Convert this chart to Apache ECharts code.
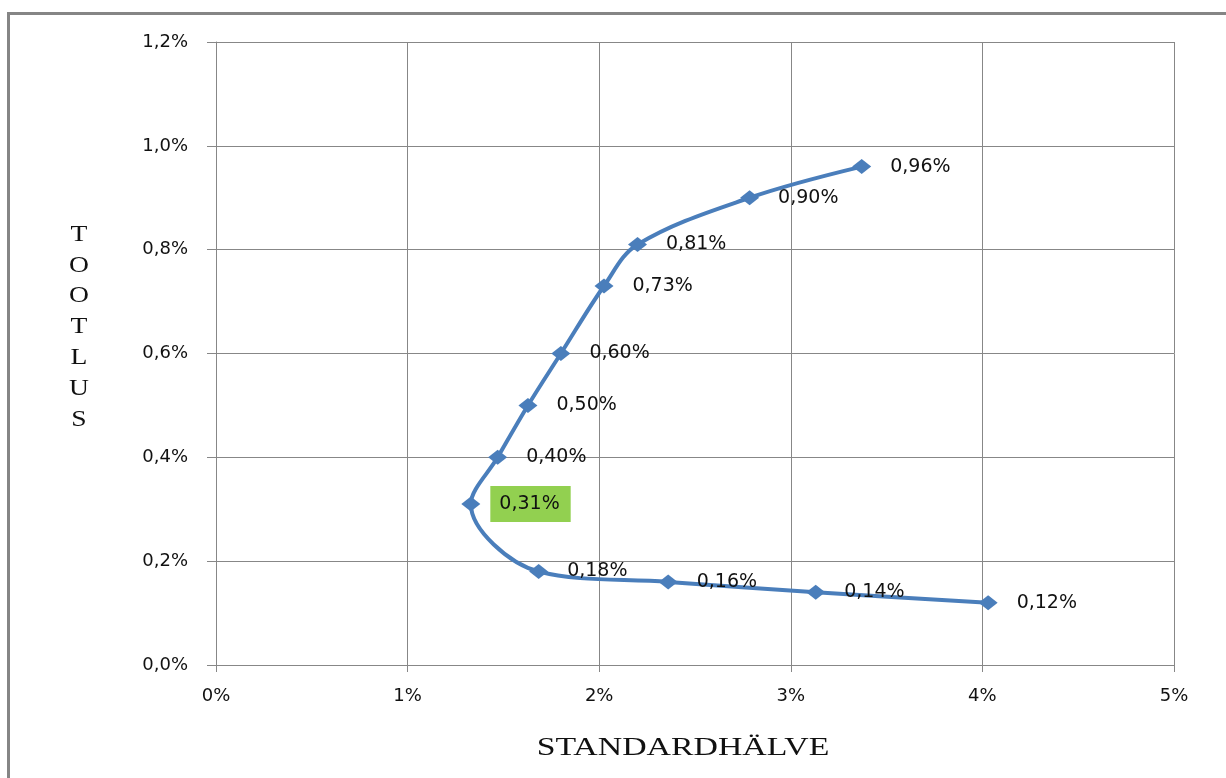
<!DOCTYPE html>
<html>
<head>
<meta charset="utf-8">
<script src="https://cdn.jsdelivr.net/npm/echarts@6/dist/echarts.min.js"></script>
<style>
  html, body { margin: 0; padding: 0; background: #fff; }
  #chart { width: 1226px; height: 778px; }
</style>
</head>
<body>
<div id="chart"></div>
<script>
// Efficient frontier: standard deviation (x, %) vs. expected return (y, %)
const stdevPct  = [3.37, 2.785, 2.20, 2.025, 1.80, 1.628, 1.47, 1.33, 1.684, 2.36, 3.13, 4.03];
const returnPct = [0.96, 0.90, 0.81, 0.73, 0.60, 0.50, 0.40, 0.31, 0.18, 0.16, 0.14, 0.12];
const highlightIndex = 7; // minimum-variance portfolio

const xTitle = 'STANDARDHÄLVE';
const yTitle = 'TOOTLUS';

const comma = (s) => s.replace('.', ',');

const points = stdevPct.map((x, i) => {
  const p = { value: [x, returnPct[i]] };
  if (i === highlightIndex) {
    p.label = { backgroundColor: '#92D050', padding: [9, 11, 8, 9], distance: 10 };
  }
  return p;
});

const chart = echarts.init(document.getElementById('chart'));
chart.setOption({
  animation: false,
  backgroundColor: '#ffffff',
  grid: { left: 216, right: 52, top: 42, bottom: 113, containLabel: false },
  xAxis: {
    type: 'value', min: 0, max: 5, interval: 1,
    axisLine: { show: true, lineStyle: { color: '#878787', width: 1 } },
    axisTick: { show: true, length: 7, lineStyle: { color: '#878787' } },
    splitLine: { show: true, lineStyle: { color: '#878787', width: 1 } },
    axisLabel: {
      margin: 22, color: '#111', fontFamily: 'DejaVu Sans', fontSize: 18,
      formatter: (v) => v.toFixed(0) + '%'
    }
  },
  yAxis: {
    type: 'value', min: 0, max: 1.2, interval: 0.2,
    axisLine: { show: true, lineStyle: { color: '#878787', width: 1 } },
    axisTick: { show: true, length: 9, lineStyle: { color: '#878787' } },
    splitLine: { show: true, lineStyle: { color: '#878787', width: 1 } },
    axisLabel: {
      margin: 28, color: '#111', fontFamily: 'DejaVu Sans', fontSize: 18,
      formatter: (v) => comma(v.toFixed(1)) + '%'
    }
  },
  series: [{
    type: 'line',
    data: points,
    smooth: 0.35,
    symbol: 'diamond',
    symbolSize: [19, 15],
    showAllSymbol: true,
    lineStyle: { color: '#4A7EBB', width: 4 },
    itemStyle: { color: '#4A7EBB' },
    label: {
      show: true, position: 'right', distance: 19,
      color: '#111', fontFamily: 'DejaVu Sans', fontSize: 19,
      formatter: (p) => comma(p.value[1].toFixed(2)) + '%'
    },
    z: 3
  }],
  graphic: [
    {
      type: 'rect', silent: true,
      shape: { x: 8.5, y: 13.5, width: 1400, height: 900 },
      style: { fill: 'none', stroke: '#858585', lineWidth: 3 }
    },
    {
      type: 'text', silent: true, x: 683, y: 748, scaleX: 1.3,
      style: {
        text: xTitle, fontFamily: 'Liberation Serif', fontSize: 26,
        fill: '#111', align: 'center', verticalAlign: 'middle'
      }
    },
    {
      type: 'text', silent: true, x: 79, y: 327, scaleX: 1.15,
      style: {
        text: yTitle.split('').join('\n'), fontFamily: 'Liberation Serif', fontSize: 24,
        lineHeight: 30.8, fill: '#111', align: 'center', verticalAlign: 'middle'
      }
    }
  ]
});
</script>
</body>
</html>
